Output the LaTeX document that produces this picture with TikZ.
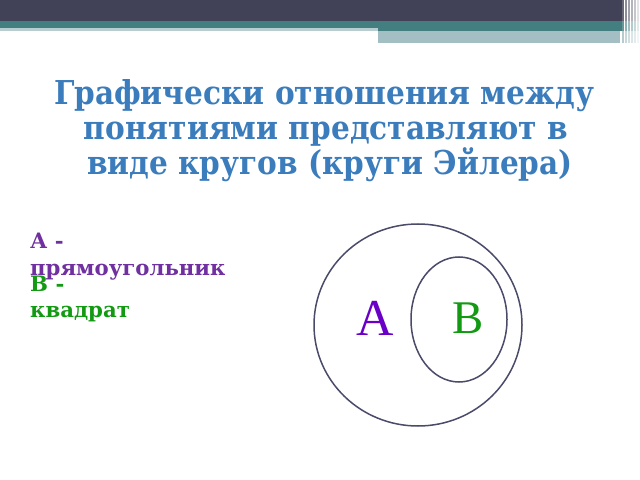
\documentclass[tikz,border=0pt]{standalone}
\usepackage{fontspec}
\setmainfont{Liberation Serif}
\newfontfamily\titlefont[FakeStretch=0.9]{DejaVu Serif}
\newfontfamily\letterfont{Liberation Serif}
\newfontfamily\labelfont{DejaVu Serif}
\definecolor{darkbar}{HTML}{414257}
\definecolor{tealbar}{HTML}{437E81}
\definecolor{lightbar}{HTML}{A3BFC3}
\definecolor{lightstrip}{HTML}{B7CDD0}
\definecolor{titleblue}{HTML}{3A7CBC}
\definecolor{apurple}{HTML}{7030A0}
\definecolor{agreen}{HTML}{129A12}
\definecolor{bigA}{HTML}{6A00C8}
\definecolor{circ}{HTML}{4A4A6A}
\begin{document}
\begin{tikzpicture}[x=1bp,y=-1bp,
  titletext/.style={font=\titlefont\bfseries\fontsize{33}{33}\selectfont, text=titleblue, anchor=base, inner sep=0},
  leftlabel/.style={font=\labelfont\bfseries\fontsize{21.3}{21.3}\selectfont, anchor=base west, inner sep=0},
  bigletter/.style={font=\letterfont\fontsize{52}{52}\selectfont, anchor=base, inner sep=0},
  eulercircle/.style={draw=circ, line width=1.5bp}]
\useasboundingbox (0,0) rectangle (640,480);
\fill[white] (0,0) rectangle (640,480);
% header bars
\fill[darkbar] (0,0) rectangle (622,21);
\fill[tealbar] (0,21) rectangle (622,29);
\fill[lightstrip] (0,28) rectangle (378,31);
\fill[tealbar] (378,21) rectangle (622,31);
\fill[lightbar] (378,31) rectangle (620,43);
\foreach \i/\o in {622/0.8,625/0.6,628/0.5,631/0.4,634/0.3,637/0.15}{
  \fill[darkbar, opacity=\o] (\i,0) rectangle (\i+2,21);
  \fill[tealbar, opacity=\o] (\i,21) rectangle (\i+2,31);
  \fill[lightbar, opacity=\o] (\i,31) rectangle (\i+2,43);
}
% title
\node[titletext] (t1) at (324,105) {Графически отношения между};
\node[titletext] (t2) at (326,140) {понятиями представляют в};
\node[titletext] (t3) at (330,175) {виде кругов (круги Эйлера)};
% left labels
\node[leftlabel, text=apurple] (la1) at (30,249) {А -};
\node[leftlabel, text=apurple] (la2) at (30,275) {прямоугольник};
\node[leftlabel, text=agreen] (lb1) at (30,291) {В -};
\node[leftlabel, text=agreen] (lb2) at (30,317) {квадрат};
% Euler circles
\draw[eulercircle] (418,325) ellipse [x radius=104, y radius=101];
\draw[eulercircle] (459,319.5) ellipse [x radius=48, y radius=62.5];
\node[bigletter, text=bigA] (A) at (375,335) {А};
\node[bigletter, text=agreen, font=\letterfont\fontsize{47}{47}\selectfont] (B) at (468,333) {В};
\end{tikzpicture}
\end{document}
